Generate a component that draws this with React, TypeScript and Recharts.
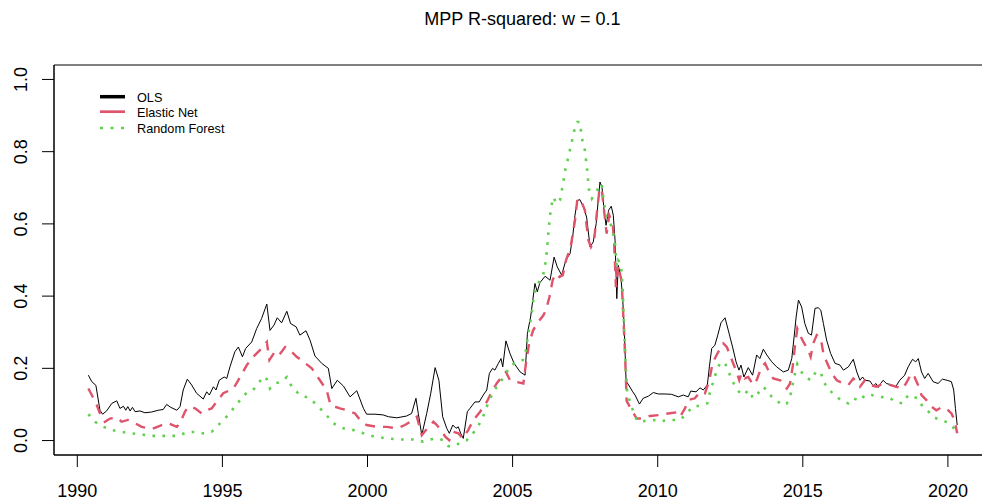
import { Line, LineChart, ReferenceArea, XAxis, YAxis } from 'recharts';

const FONT = '"Liberation Sans", Arial, sans-serif';

// [year, R-squared] pairs
const OLS: [number, number][] = [
  [1990.38, 0.181], [1990.5, 0.163], [1990.64, 0.153], [1990.78, 0.084], [1990.87, 0.073], [1991.01, 0.082],
  [1991.19, 0.103], [1991.36, 0.11], [1991.47, 0.089], [1991.59, 0.095], [1991.67, 0.084], [1991.74, 0.094],
  [1991.82, 0.082], [1991.9, 0.092], [1991.99, 0.08], [1992.16, 0.082], [1992.33, 0.077], [1992.56, 0.079],
  [1992.79, 0.084], [1992.96, 0.086], [1993.08, 0.1], [1993.22, 0.092], [1993.43, 0.084], [1993.54, 0.094],
  [1993.65, 0.14], [1993.79, 0.17], [1993.94, 0.154], [1994.11, 0.131], [1994.34, 0.115], [1994.46, 0.135],
  [1994.55, 0.126], [1994.69, 0.149], [1994.78, 0.14], [1994.89, 0.167], [1995.06, 0.176], [1995.15, 0.172],
  [1995.26, 0.204], [1995.43, 0.246], [1995.55, 0.259], [1995.69, 0.232], [1995.8, 0.255], [1996.01, 0.273],
  [1996.18, 0.31], [1996.35, 0.338], [1996.53, 0.378], [1996.64, 0.305], [1996.78, 0.32], [1996.89, 0.34],
  [1997.04, 0.326], [1997.22, 0.358], [1997.35, 0.324], [1997.54, 0.315], [1997.67, 0.292], [1997.88, 0.304],
  [1998.02, 0.278], [1998.19, 0.234], [1998.42, 0.214], [1998.65, 0.2], [1998.77, 0.144], [1998.96, 0.167],
  [1999.17, 0.151], [1999.4, 0.121], [1999.63, 0.138], [1999.86, 0.089], [1999.97, 0.073], [2000.26, 0.073],
  [2000.54, 0.071], [2000.72, 0.066], [2001.01, 0.063], [2001.35, 0.068], [2001.52, 0.075], [2001.67, 0.117],
  [2001.75, 0.075], [2001.87, 0.015], [2002.04, 0.075], [2002.18, 0.131], [2002.33, 0.202], [2002.46, 0.167],
  [2002.59, 0.066], [2002.73, 0.034], [2002.82, 0.02], [2002.94, 0.043], [2003.05, 0.034], [2003.13, 0.038],
  [2003.21, 0.02], [2003.3, 0.006], [2003.44, 0.08], [2003.53, 0.089], [2003.7, 0.107], [2003.85, 0.107],
  [2003.99, 0.126], [2004.11, 0.14], [2004.2, 0.186], [2004.31, 0.2], [2004.39, 0.195], [2004.51, 0.214],
  [2004.6, 0.227], [2004.66, 0.204], [2004.77, 0.276], [2004.91, 0.241], [2005.05, 0.214], [2005.26, 0.19],
  [2005.43, 0.181], [2005.51, 0.297], [2005.62, 0.342], [2005.77, 0.435], [2005.85, 0.412], [2005.94, 0.437],
  [2006.12, 0.455], [2006.29, 0.444], [2006.43, 0.508], [2006.54, 0.481], [2006.69, 0.458], [2006.84, 0.501],
  [2006.98, 0.518], [2007.07, 0.564], [2007.15, 0.624], [2007.23, 0.665], [2007.32, 0.667], [2007.44, 0.647],
  [2007.55, 0.619], [2007.67, 0.536], [2007.78, 0.55], [2007.88, 0.601], [2007.95, 0.665], [2008.01, 0.716],
  [2008.08, 0.702], [2008.15, 0.638], [2008.22, 0.596], [2008.31, 0.638], [2008.4, 0.649], [2008.47, 0.624],
  [2008.53, 0.555], [2008.59, 0.393], [2008.64, 0.485], [2008.73, 0.453], [2008.79, 0.398], [2008.85, 0.306],
  [2008.91, 0.165], [2009.02, 0.151], [2009.14, 0.135], [2009.22, 0.126], [2009.37, 0.101], [2009.5, 0.117],
  [2009.68, 0.123], [2009.85, 0.133], [2010.02, 0.129], [2010.25, 0.129], [2010.48, 0.128], [2010.71, 0.121],
  [2010.88, 0.126], [2011.05, 0.121], [2011.14, 0.137], [2011.32, 0.135], [2011.46, 0.146], [2011.57, 0.14],
  [2011.71, 0.154], [2011.78, 0.204], [2011.86, 0.255], [2011.97, 0.264], [2012.07, 0.292], [2012.18, 0.326],
  [2012.32, 0.34], [2012.43, 0.306], [2012.58, 0.259], [2012.7, 0.218], [2012.8, 0.195], [2012.87, 0.209],
  [2012.97, 0.176], [2013.12, 0.202], [2013.27, 0.181], [2013.41, 0.237], [2013.52, 0.227], [2013.64, 0.253],
  [2013.76, 0.237], [2013.93, 0.218], [2014.1, 0.204], [2014.33, 0.19], [2014.5, 0.195], [2014.62, 0.227],
  [2014.7, 0.287], [2014.77, 0.342], [2014.85, 0.389], [2014.96, 0.37], [2015.07, 0.324], [2015.19, 0.297],
  [2015.3, 0.292], [2015.42, 0.366], [2015.53, 0.368], [2015.62, 0.361], [2015.71, 0.324], [2015.82, 0.278],
  [2015.96, 0.241], [2016.11, 0.214], [2016.28, 0.209], [2016.4, 0.195], [2016.57, 0.204], [2016.74, 0.225],
  [2016.86, 0.19], [2016.97, 0.167], [2017.06, 0.176], [2017.14, 0.167], [2017.31, 0.165], [2017.43, 0.151],
  [2017.52, 0.158], [2017.6, 0.147], [2017.68, 0.158], [2017.77, 0.167], [2017.88, 0.158], [2018.06, 0.154],
  [2018.2, 0.149], [2018.34, 0.167], [2018.51, 0.181], [2018.63, 0.204], [2018.78, 0.225], [2018.89, 0.218],
  [2018.98, 0.227], [2019.09, 0.19], [2019.2, 0.172], [2019.32, 0.186], [2019.49, 0.163], [2019.66, 0.158],
  [2019.81, 0.17], [2019.97, 0.167], [2020.12, 0.163], [2020.2, 0.14], [2020.26, 0.089], [2020.32, 0.043],
];

const ELASTIC_NET: [number, number][] = [
  [1990.38, 0.144], [1990.5, 0.126], [1990.67, 0.098], [1990.78, 0.075], [1990.95, 0.052], [1991.13, 0.061],
  [1991.36, 0.064], [1991.53, 0.052], [1991.74, 0.057], [1991.99, 0.048], [1992.22, 0.038], [1992.56, 0.032],
  [1992.91, 0.043], [1993.14, 0.048], [1993.43, 0.038], [1993.54, 0.048], [1993.71, 0.08], [1993.83, 0.094],
  [1994.06, 0.089], [1994.29, 0.075], [1994.46, 0.084], [1994.63, 0.089], [1994.8, 0.107], [1995.03, 0.131],
  [1995.38, 0.144], [1995.61, 0.176], [1995.84, 0.209], [1996.06, 0.232], [1996.35, 0.255], [1996.53, 0.273],
  [1996.62, 0.223], [1996.81, 0.246], [1996.96, 0.237], [1997.16, 0.259], [1997.33, 0.25], [1997.56, 0.232],
  [1997.79, 0.218], [1998.08, 0.2], [1998.36, 0.167], [1998.59, 0.14], [1998.73, 0.098], [1999.05, 0.089],
  [1999.3, 0.084], [1999.57, 0.075], [1999.74, 0.057], [1999.97, 0.043], [2000.32, 0.038], [2000.66, 0.038],
  [2001.01, 0.034], [2001.29, 0.043], [2001.58, 0.057], [2001.7, 0.066], [2001.87, 0.015], [2002.1, 0.038],
  [2002.27, 0.052], [2002.39, 0.043], [2002.56, 0.025], [2002.68, 0.011], [2002.82, 0.001], [2002.96, 0.024],
  [2003.13, 0.02], [2003.28, 0.006], [2003.47, 0.029], [2003.65, 0.057], [2003.88, 0.08], [2004.11, 0.107],
  [2004.28, 0.135], [2004.45, 0.158], [2004.62, 0.176], [2004.77, 0.19], [2004.91, 0.167], [2005.08, 0.163],
  [2005.37, 0.158], [2005.46, 0.214], [2005.57, 0.269], [2005.71, 0.306], [2005.89, 0.329], [2006.06, 0.347],
  [2006.15, 0.361], [2006.27, 0.398], [2006.38, 0.444], [2006.47, 0.462], [2006.61, 0.453], [2006.73, 0.458],
  [2006.84, 0.499], [2007.0, 0.536], [2007.15, 0.61], [2007.23, 0.667], [2007.35, 0.667], [2007.49, 0.638],
  [2007.61, 0.555], [2007.7, 0.536], [2007.81, 0.555], [2007.9, 0.628], [2007.99, 0.693], [2008.07, 0.698],
  [2008.15, 0.638], [2008.24, 0.573], [2008.33, 0.624], [2008.45, 0.601], [2008.5, 0.545], [2008.56, 0.425],
  [2008.64, 0.485], [2008.76, 0.439], [2008.81, 0.352], [2008.87, 0.25], [2008.93, 0.11], [2009.1, 0.084],
  [2009.28, 0.061], [2009.5, 0.061], [2009.73, 0.068], [2010.08, 0.071], [2010.36, 0.075], [2010.65, 0.078],
  [2010.77, 0.066], [2010.94, 0.089], [2011.05, 0.112], [2011.28, 0.117], [2011.46, 0.135], [2011.63, 0.131],
  [2011.78, 0.167], [2011.89, 0.214], [2012.03, 0.237], [2012.12, 0.25], [2012.26, 0.269], [2012.38, 0.259],
  [2012.49, 0.237], [2012.6, 0.214], [2012.72, 0.19], [2012.81, 0.167], [2012.89, 0.186], [2013.0, 0.172],
  [2013.12, 0.176], [2013.29, 0.154], [2013.41, 0.167], [2013.58, 0.204], [2013.7, 0.214], [2013.81, 0.195],
  [2013.98, 0.172], [2014.22, 0.167], [2014.45, 0.144], [2014.56, 0.158], [2014.65, 0.204], [2014.73, 0.262],
  [2014.81, 0.31], [2014.9, 0.292], [2015.02, 0.273], [2015.19, 0.25], [2015.27, 0.232], [2015.36, 0.269],
  [2015.48, 0.292], [2015.62, 0.283], [2015.71, 0.241], [2015.82, 0.218], [2016.0, 0.186], [2016.17, 0.167],
  [2016.4, 0.158], [2016.57, 0.154], [2016.74, 0.172], [2016.86, 0.163], [2016.97, 0.149], [2017.14, 0.167],
  [2017.31, 0.154], [2017.54, 0.149], [2017.77, 0.158], [2018.0, 0.154], [2018.22, 0.149], [2018.45, 0.144],
  [2018.59, 0.163], [2018.74, 0.186], [2018.85, 0.176], [2018.97, 0.154], [2019.09, 0.126], [2019.26, 0.112],
  [2019.43, 0.094], [2019.6, 0.084], [2019.78, 0.092], [2019.95, 0.089], [2020.12, 0.075], [2020.23, 0.057],
  [2020.32, 0.02],
];

const RANDOM_FOREST: [number, number][] = [
  [1990.38, 0.073], [1990.61, 0.052], [1990.9, 0.038], [1991.19, 0.029], [1991.53, 0.024], [1991.82, 0.02],
  [1992.16, 0.018], [1992.51, 0.013], [1992.85, 0.013], [1993.19, 0.013], [1993.48, 0.013], [1993.77, 0.023],
  [1994.06, 0.024], [1994.34, 0.02], [1994.63, 0.024], [1994.86, 0.043], [1995.09, 0.061], [1995.38, 0.089],
  [1995.61, 0.112], [1995.84, 0.133], [1996.06, 0.14], [1996.24, 0.158], [1996.41, 0.178], [1996.53, 0.17],
  [1996.64, 0.144], [1996.81, 0.158], [1997.04, 0.163], [1997.22, 0.176], [1997.39, 0.149], [1997.67, 0.126],
  [1998.02, 0.117], [1998.3, 0.094], [1998.54, 0.075], [1998.82, 0.048], [1999.17, 0.034], [1999.51, 0.029],
  [1999.86, 0.02], [2000.2, 0.012], [2000.66, 0.006], [2001.12, 0.003], [2001.58, 0.003], [2001.92, -0.003],
  [2002.15, 0.003], [2002.39, 0.006], [2002.61, 0.001], [2002.78, -0.015], [2002.9, -0.017], [2003.07, -0.012],
  [2003.25, -0.003], [2003.42, 0.001], [2003.59, 0.015], [2003.76, 0.034], [2003.94, 0.057], [2004.11, 0.094],
  [2004.28, 0.126], [2004.45, 0.149], [2004.62, 0.167], [2004.8, 0.19], [2004.97, 0.209], [2005.14, 0.218],
  [2005.35, 0.223], [2005.46, 0.25], [2005.54, 0.297], [2005.66, 0.352], [2005.74, 0.407], [2005.83, 0.425],
  [2005.94, 0.444], [2006.06, 0.462], [2006.15, 0.499], [2006.23, 0.573], [2006.31, 0.638], [2006.4, 0.674],
  [2006.52, 0.656], [2006.63, 0.665], [2006.73, 0.707], [2006.8, 0.744], [2006.92, 0.785], [2007.04, 0.827],
  [2007.15, 0.868], [2007.23, 0.882], [2007.32, 0.882], [2007.38, 0.84], [2007.49, 0.804], [2007.57, 0.748],
  [2007.64, 0.688], [2007.73, 0.67], [2007.84, 0.684], [2007.95, 0.698], [2008.07, 0.711], [2008.15, 0.656],
  [2008.24, 0.619], [2008.33, 0.61], [2008.45, 0.582], [2008.53, 0.545], [2008.59, 0.481], [2008.64, 0.499],
  [2008.73, 0.49], [2008.79, 0.425], [2008.84, 0.315], [2008.9, 0.204], [2008.95, 0.131], [2009.1, 0.094],
  [2009.22, 0.066], [2009.33, 0.052], [2009.62, 0.055], [2009.85, 0.057], [2010.08, 0.052], [2010.31, 0.057],
  [2010.54, 0.057], [2010.77, 0.057], [2011.0, 0.075], [2011.21, 0.095], [2011.46, 0.096], [2011.71, 0.103],
  [2011.83, 0.144], [2011.94, 0.167], [2012.03, 0.195], [2012.15, 0.214], [2012.28, 0.218], [2012.39, 0.204],
  [2012.49, 0.181], [2012.62, 0.158], [2012.74, 0.14], [2012.85, 0.131], [2012.97, 0.126], [2013.12, 0.14],
  [2013.29, 0.117], [2013.46, 0.131], [2013.62, 0.149], [2013.76, 0.14], [2013.93, 0.121], [2014.1, 0.112],
  [2014.27, 0.098], [2014.45, 0.103], [2014.59, 0.131], [2014.7, 0.176], [2014.81, 0.212], [2015.02, 0.181],
  [2015.27, 0.167], [2015.45, 0.19], [2015.62, 0.19], [2015.71, 0.163], [2015.91, 0.14], [2016.17, 0.121],
  [2016.4, 0.107], [2016.57, 0.103], [2016.74, 0.117], [2016.97, 0.11], [2017.14, 0.126], [2017.37, 0.126],
  [2017.65, 0.121], [2017.97, 0.119], [2018.2, 0.107], [2018.45, 0.103], [2018.63, 0.126], [2018.8, 0.121],
  [2018.97, 0.117], [2019.12, 0.095], [2019.29, 0.084], [2019.49, 0.066], [2019.66, 0.059], [2019.83, 0.055],
  [2020.03, 0.049], [2020.17, 0.038], [2020.28, 0.024],
];

const YEAR_TICKS = [1990, 1995, 2000, 2005, 2010, 2015, 2020];
const R2_TICKS = [0, 0.2, 0.4, 0.6, 0.8, 1.0];
const X_DOMAIN: [number, number] = [1989.197, 2021.485];
const Y_DOMAIN: [number, number] = [-0.04, 1.04];

const toRows = (pairs: [number, number][]) => pairs.map(([t, v]) => ({ t, v }));

const olsRows = toRows(OLS);
const enetRows = toRows(ELASTIC_NET);
const rfRows = toRows(RANDOM_FOREST);

// eslint-disable-next-line @typescript-eslint/no-explicit-any
const XTick = (props: any) => {
  const { x, y, payload } = props;
  return (
    <text x={x} y={y + 28} textAnchor="middle" fontSize={18} fill="#000" fontFamily={FONT}>
      {payload.value}
    </text>
  );
};

// eslint-disable-next-line @typescript-eslint/no-explicit-any
const YTick = (props: any) => {
  const { x, y, payload } = props;
  const bx = x - 13;
  return (
    <text
      x={bx}
      y={y}
      transform={`rotate(-90, ${bx}, ${y})`}
      textAnchor="middle"
      fontSize={18}
      fill="#000"
      fontFamily={FONT}
    >
      {Number(payload.value).toFixed(1)}
    </text>
  );
};

export default function App() {
  return (
    <div
      style={{
        position: 'absolute',
        left: 0,
        top: 0,
        width: 982,
        height: 502,
        overflow: 'hidden',
        background: '#fff',
      }}
    >
      <LineChart width={1000} height={502} margin={{ top: 65, right: 9, bottom: 0, left: 0 }}>
        <XAxis
          dataKey="t"
          type="number"
          domain={X_DOMAIN}
          ticks={YEAR_TICKS}
          interval={0}
          allowDataOverflow
          height={47}
          tickSize={12}
          stroke="#000"
          tick={XTick}
        />
        <YAxis
          type="number"
          domain={Y_DOMAIN}
          ticks={R2_TICKS}
          interval={0}
          allowDataOverflow
          width={54}
          tickSize={12}
          stroke="#000"
          tick={YTick}
        />
        <ReferenceArea
          x1={X_DOMAIN[0]}
          x2={X_DOMAIN[1]}
          y1={Y_DOMAIN[0]}
          y2={Y_DOMAIN[1]}
          fill="none"
          stroke="#000"
          strokeWidth={1}
          ifOverflow="visible"
        />
        <Line
          data={olsRows}
          dataKey="v"
          type="linear"
          stroke="#000"
          strokeWidth={1}
          dot={false}
          activeDot={false}
          isAnimationActive={false}
        />
        <Line
          data={enetRows}
          dataKey="v"
          type="linear"
          stroke="#DF536B"
          strokeWidth={2.4}
          strokeDasharray="10 8"
          dot={false}
          activeDot={false}
          isAnimationActive={false}
        />
        <Line
          data={rfRows}
          dataKey="v"
          type="linear"
          stroke="#61D04F"
          strokeWidth={2.6}
          strokeDasharray="2.6 7.4"
          dot={false}
          activeDot={false}
          isAnimationActive={false}
        />
      </LineChart>
      <svg
        width={982}
        height={502}
        style={{ position: 'absolute', left: 0, top: 0, pointerEvents: 'none' }}
        fontFamily={FONT}
      >
        <text x={522.5} y={24.5} textAnchor="middle" fontSize={18} fill="#000">
          MPP R-squared: w = 0.1
        </text>
        <line x1={100} x2={125} y1={96.7} y2={96.7} stroke="#000" strokeWidth={3.5} />
        <line x1={100} x2={125} y1={111.7} y2={111.7} stroke="#DF536B" strokeWidth={2.7} />
        <line x1={100} x2={125} y1={128} y2={128} stroke="#61D04F" strokeWidth={2.7} strokeDasharray="3 7.5" />
        <text x={137} y={101.5} fontSize={12.7} fill="#000">OLS</text>
        <text x={137} y={116.5} fontSize={12.7} fill="#000">Elastic Net</text>
        <text x={137} y={132.8} fontSize={12.7} fill="#000">Random Forest</text>
      </svg>
    </div>
  );
}
